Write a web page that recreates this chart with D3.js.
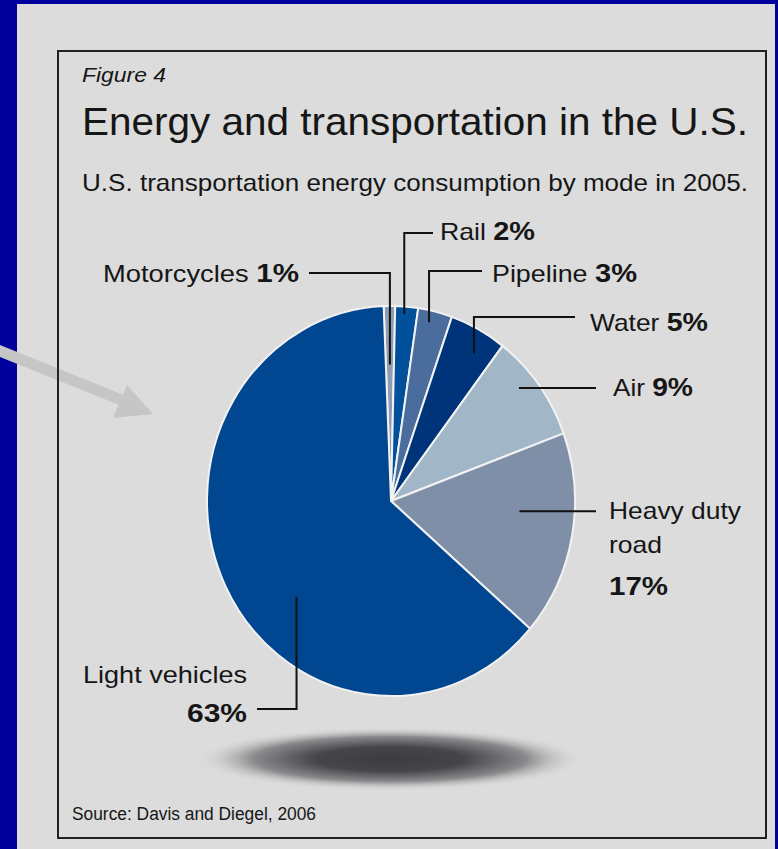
<!DOCTYPE html>
<meta charset="utf-8">
<head>
<style>
  body { margin: 0; background: #00009c; }
  svg { display: block; }
  text { font-family: "Liberation Sans", Arial, sans-serif; fill: #161616; }
</style>
<script src="https://cdn.jsdelivr.net/npm/d3@7/dist/d3.min.js"></script>
</head>
<body>
<div id="chart"></div>
<script>
// *** values
var modes = ["Motorcycles", "Rail", "Pipeline", "Water", "Air", "Heavy duty road", "Light vehicles"];
var shares = [1, 2, 3, 5, 9, 17, 63];
var sliceColours = ["#8e9db3", "#00509c", "#4b6d9d", "#00347a", "#a1b7c7", "#7f8fa8", "#004690"];

var figureTag = "Figure 4";
var title = "Energy and transportation in the U.S.";
var subtitle = "U.S. transportation energy consumption by mode in 2005.";
var source = "Source: Davis and Diegel, 2006";

// *** label placement (layout only)
var labelLayout = [
  { lines: [["Motorcycles ", "1%"]], x: 299, y: [282], w: [196], anchor: "end", r: 0.70, nudge: 0, kind: "down", hx: 309, hy: 273 },
  { lines: [["Rail ", "2%"]], x: 440, y: [240], w: [95], anchor: "start", r: 0.96, nudge: -0.6, kind: "down", hx: 433, hy: 233 },
  { lines: [["Pipeline ", "3%"]], x: 492, y: [282], w: [145], anchor: "start", r: 0.94, nudge: -1.2, kind: "down", hx: 482, hy: 271 },
  { lines: [["Water ", "5%"]], x: 590, y: [331], w: [118], anchor: "start", r: 0.88, nudge: 2.5, kind: "down", hx: 575, hy: 317 },
  { lines: [["Air ", "9%"]], x: 613, y: [396], w: [80], anchor: "start", r: 0.905, nudge: -3.3, kind: "flat", hx: 596 },
  { lines: [["Heavy duty", ""], ["road", ""], ["", "17%"]], x: 609, y: [519, 553, 595], w: [132, 53, 59], anchor: "start", r: 0.70, nudge: -6, kind: "flat", hx: 596 },
  { lines: [["Light vehicles", ""], ["", "63%"]], x: 247, y: [683, 722], w: [164, 60], anchor: "end", r: 0.71, nudge: -18, kind: "down", hx: 257, hy: 709 }
];

var W = 778, H = 849;
var cx = 391, cy = 501, radius = 184, squash = 1.06;
var start = -0.04;

var svg = d3.select("#chart").append("svg")
  .attr("width", W)
  .attr("height", H);

// panel
svg.append("rect")
  .attr("x", 17).attr("y", 4)
  .attr("width", 758).attr("height", H)
  .attr("fill", "#dcdcdc");

// shadow under the pie
var grad = svg.append("defs").append("radialGradient").attr("id", "shadow");
grad.append("stop").attr("offset", "0%").attr("stop-color", "#3c3c40");
grad.append("stop").attr("offset", "38%").attr("stop-color", "#46464a");
grad.append("stop").attr("offset", "70%").attr("stop-color", "#8a8a8d");
grad.append("stop").attr("offset", "100%").attr("stop-color", "#dcdcdc").attr("stop-opacity", 0);

svg.append("ellipse")
  .attr("cx", 390).attr("cy", 759)
  .attr("rx", 195).attr("ry", 32)
  .attr("fill", "url(#shadow)");

// pie
var pie = d3.pie().sort(null).value(function(d) { return d; })
  .startAngle(start).endAngle(start + 2 * Math.PI);
var arcs = pie(shares);

var arc = d3.arc().innerRadius(0).outerRadius(radius);

var g = svg.append("g")
  .attr("transform", "translate(" + cx + "," + cy + ") scale(1," + squash + ")");

g.selectAll("path")
  .data(arcs)
  .enter().append("path")
  .attr("d", arc)
  .attr("fill", function(d, i) { return sliceColours[i]; })
  .attr("stroke", "#f2f2f2")
  .attr("stroke-width", 2)
  .attr("vector-effect", "non-scaling-stroke")
  .attr("stroke-linejoin", "round");

// point inside a slice, in page coords
function slicePoint(d, frac, nudgeDeg) {
  var a = (d.startAngle + d.endAngle) / 2 + nudgeDeg * Math.PI / 180;
  var r = radius * frac;
  return [cx + r * Math.sin(a), cy - r * Math.cos(a) * squash];
}

// leaders
labelLayout.forEach(function(L, i) {
  var p = slicePoint(arcs[i], L.r, L.nudge);
  var path;
  if (L.kind == "down") {
    path = "M" + L.hx + "," + L.hy + "H" + p[0] + "V" + p[1];
  } else {
    path = "M" + L.hx + "," + p[1] + "H" + p[0];
  }
  svg.append("path")
    .attr("d", path)
    .attr("fill", "none")
    .attr("stroke", "#111")
    .attr("stroke-width", 2);

  L.lines.forEach(function(line, j) {
    var t = svg.append("text")
      .attr("x", L.x)
      .attr("y", L.y[j])
      .attr("text-anchor", L.anchor)
      .attr("textLength", L.w[j])
      .attr("lengthAdjust", "spacingAndGlyphs");
    if (line[0]) t.append("tspan").style("font-size", "24px").text(line[0]);
    if (line[1]) t.append("tspan").style("font-size", "26px").style("font-weight", "bold").text(line[1]);
  });
});

// titles
svg.append("text")
  .attr("x", 82).attr("y", 82)
  .attr("textLength", 84).attr("lengthAdjust", "spacingAndGlyphs")
  .style("font-size", "20px").style("font-style", "italic")
  .text(figureTag);

svg.append("text")
  .attr("x", 82).attr("y", 135)
  .attr("textLength", 666).attr("lengthAdjust", "spacingAndGlyphs")
  .style("font-size", "39px")
  .text(title);

svg.append("text")
  .attr("x", 82).attr("y", 191)
  .attr("textLength", 666).attr("lengthAdjust", "spacingAndGlyphs")
  .style("font-size", "24px")
  .text(subtitle);

svg.append("text")
  .attr("x", 72).attr("y", 820)
  .attr("textLength", 244).attr("lengthAdjust", "spacingAndGlyphs")
  .style("font-size", "18px")
  .text(source);

// gray pointer arrow
svg.append("line")
  .attr("x1", -5).attr("y1", 349)
  .attr("x2", 124).attr("y2", 401)
  .attr("stroke", "#c6c6c6")
  .attr("stroke-width", 11);
svg.append("polygon")
  .attr("points", "127,385 153,414 113,418")
  .attr("fill", "#c6c6c6");

// frame
svg.append("rect")
  .attr("x", 58).attr("y", 51)
  .attr("width", 708).attr("height", 787)
  .attr("fill", "none")
  .attr("stroke", "#222")
  .attr("stroke-width", 2);
</script>
</body>
